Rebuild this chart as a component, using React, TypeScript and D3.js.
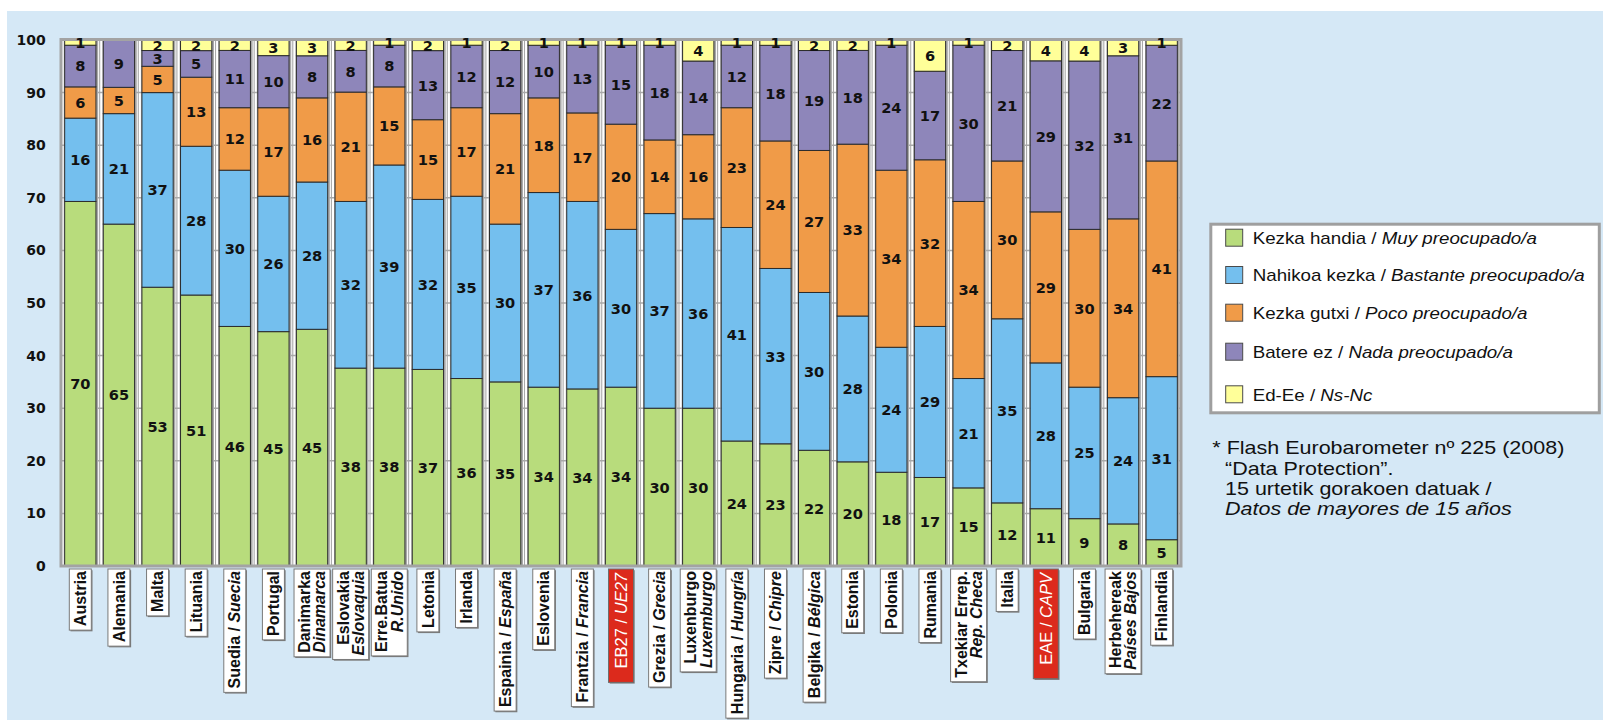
import React from 'react';
import * as d3 from 'd3';

// ---------- DATA ----------
const categories = ['Austria', 'Alemania', 'Malta', 'Lituania', 'Suedia', 'Portugal', 'Danimarka', 'Eslovakia', 'Erre.Batua', 'Letonia', 'Irlanda', 'Espainia', 'Eslovenia', 'Frantzia', 'EB27', 'Grezia', 'Luxenburgo', 'Hungaria', 'Zipre', 'Belgika', 'Estonia', 'Polonia', 'Rumania', 'Txekiar Errep.', 'Italia', 'EAE', 'Bulgaria', 'Herbehereak', 'Finlandia'];
const spanishNames = ['', '', '', '', 'Suecia', '', 'Dinamarca', 'Eslovaquia', 'R.Unido', '', '', 'España', '', 'Francia', 'UE27', 'Grecia', 'Luxemburgo', 'Hungría', 'Chipre', 'Bélgica', '', '', '', 'Rep. Checa', '', 'CAPV', '', 'Países Bajos', ''];
const stackedLabels = ['Danimarka', 'Eslovakia', 'Erre.Batua', 'Luxenburgo', 'Txekiar Errep.', 'Herbehereak'];
const highlighted = ['EB27', 'EAE'];

const muy = [70, 65, 53, 51, 46, 45, 45, 38, 38, 37, 36, 35, 34, 34, 34, 30, 30, 24, 23, 22, 20, 18, 17, 15, 12, 11, 9, 8, 5];
const bastante = [16, 21, 37, 28, 30, 26, 28, 32, 39, 32, 35, 30, 37, 36, 30, 37, 36, 41, 33, 30, 28, 24, 29, 21, 35, 28, 25, 24, 31];
const poco = [6, 5, 5, 13, 12, 17, 16, 21, 15, 15, 17, 21, 18, 17, 20, 14, 16, 23, 24, 27, 33, 34, 32, 34, 30, 29, 30, 34, 41];
const nada = [8, 9, 3, 5, 11, 10, 8, 8, 8, 13, 12, 12, 10, 13, 15, 18, 14, 12, 18, 19, 18, 24, 17, 30, 21, 29, 32, 31, 22];
const nsnc = [1, 0, 2, 2, 2, 3, 3, 2, 1, 2, 1, 2, 1, 1, 1, 1, 4, 1, 1, 2, 2, 1, 6, 1, 2, 4, 4, 3, 1];

const seriesKeys = ['muy', 'bastante', 'poco', 'nada', 'nsnc'];
const seriesValues = [muy, bastante, poco, nada, nsnc];
const seriesColors = ['#b8dc7c', '#74bfee', '#f09b48', '#8e86ba', '#ffff99'];
const legendBasque = ['Kezka handia / ', 'Nahikoa kezka / ', 'Kezka gutxi / ', 'Batere ez / ', 'Ed-Ee / '];
const legendSpanish = ['Muy preocupado/a', 'Bastante preocupado/a', 'Poco preocupado/a', 'Nada preocupado/a', 'Ns-Nc'];
const yTicks = [0, 10, 20, 30, 40, 50, 60, 70, 80, 90, 100];
const footnote = ['* Flash Eurobarometer nº 225 (2008)', '“Data Protection”.', '15 urtetik gorakoen datuak /', 'Datos de mayores de 15 años'];

// ---------- LAYOUT ----------
const W = 1603;
const H = 720;
const SANS = "'Liberation Sans', Arial, sans-serif";
const DEJA = "'DejaVu Sans', Verdana, sans-serif";

let _ctx: CanvasRenderingContext2D | null = null;
function measure(text: string, font: string): number {
  if (!_ctx) _ctx = document.createElement('canvas').getContext('2d');
  if (!_ctx) return text.length * 9;
  _ctx.font = font;
  return _ctx.measureText(text).width;
}

export default function App() {
  const plotLeft = 61, plotRight = 1181, plotTop = 40, plotBottom = 566;
  const y = d3.scaleLinear().domain([0, 1]).range([plotBottom, plotTop]);
  const x = d3.scaleBand<string>().domain(categories).range([plotLeft, plotRight]).paddingInner(0.19).paddingOuter(0.095);
  const bw = x.bandwidth();
  const step = x.step();

  const rows = categories.map((c, i) => {
    const r: any = { cat: c };
    seriesKeys.forEach((k, j) => { r[k] = seriesValues[j][i]; });
    return r;
  });
  const stacked = d3.stack<any>().keys(seriesKeys).offset(d3.stackOffsetExpand)(rows);

  const labelTop = 569;
  const lfs = 16;
  const boldFont = `bold ${lfs}px ${SANS}`;
  const boldItFont = `italic bold ${lfs}px ${SANS}`;

  return (
    <svg width={W} height={H} style={{ position: 'absolute', left: 0, top: 0 }} xmlns="http://www.w3.org/2000/svg">
      <rect x={0} y={0} width={W} height={H} fill="#ffffff" />
      <rect x={7} y={11} width={W - 7} height={H - 11} fill="#d5e8f6" />

      {/* plot area */}
      <rect x={plotLeft} y={plotTop} width={plotRight - plotLeft} height={plotBottom - plotTop} fill="#ffffff" />
      {categories.map((c) => {
        const bx = x(c) as number;
        return (
          <g key={'v' + c}>
            <rect x={bx + bw} y={plotTop} width={2.2} height={plotBottom - plotTop} fill="#a9a9a9" />
            <rect x={bx + bw + (step - bw) / 2 - 0.5} y={plotTop} width={1.1} height={plotBottom - plotTop} fill="#a9a9a9" />
            <rect x={bx - 1} y={plotTop} width={0.9} height={plotBottom - plotTop} fill="#b5b5b5" />
          </g>
        );
      })}
      {yTicks.slice(1, -1).map((t) => (
        <line key={'g' + t} x1={plotLeft} x2={plotRight} y1={y(t / 100)} y2={y(t / 100)} stroke="#a9a9a9" strokeWidth={1.5} />
      ))}

      {/* bars */}
      {stacked.map((s, j) => (
        <g key={'s' + j}>
          {s.map((d, i) => {
            if (seriesValues[j][i] === 0) return null;
            return (
              <rect key={i} x={x(categories[i]) as number} y={y(d[1])} width={bw} height={y(d[0]) - y(d[1])}
                fill={seriesColors[j]} stroke="#2b2b2b" strokeWidth={1} />
            );
          })}
        </g>
      ))}

      {/* frame */}
      <rect x={plotLeft} y={plotTop - 0.5} width={plotRight - plotLeft} height={plotBottom - plotTop + 0.5} fill="none" stroke="#a3a3a3" strokeWidth={3} />

      {/* value labels */}
      {stacked.map((s, j) => (
        <g key={'l' + j}>
          {s.map((d, i) => {
            const v = seriesValues[j][i];
            if (v === 0) return null;
            const cx = (x(categories[i]) as number) + bw / 2;
            const cy = (y(d[0]) + y(d[1])) / 2;
            return (
              <text key={i} x={cx} y={cy} dy="0.37em" textAnchor="middle" fontFamily={DEJA} fontWeight="bold" fontSize={14.6} fill="#111">{v}</text>
            );
          })}
        </g>
      ))}

      {/* y axis labels */}
      {yTicks.map((t) => (
        <text key={'y' + t} x={45.7} y={y(t / 100)} dy="0.36em" textAnchor="end" fontFamily={DEJA} fontWeight="bold" fontSize={14} fill="#111">{t}</text>
      ))}

      {/* category labels */}
      {categories.map((c, i) => {
        const cx = (x(c) as number) + bw / 2;
        const alt = spanishNames[i];
        const isRed = highlighted.includes(c);
        const isStacked = stackedLabels.includes(c);
        if (isRed) {
          const f = `${lfs + 0.5}px ${SANS}`;
          const len = measure(c + ' / ', f) + measure(alt, `italic ${f}`);
          const bwid = 25;
          const h = len + 4 + 14;
          return (
            <g key={'c' + c}>
              <rect x={cx - bwid / 2 + 1.2} y={labelTop + 1.2} width={bwid} height={h} fill="#7a7a7a" />
              <rect x={cx - bwid / 2} y={labelTop} width={bwid} height={h} fill="#dc2a1c" stroke="#6e6e6e" strokeWidth={1} />
              <text transform={`translate(${cx + 6},${labelTop + 4}) rotate(-90)`} textAnchor="end" fontFamily={SANS} fontSize={lfs + 0.5} fill="#ffffff">
                {c + ' / '}<tspan fontStyle="italic">{alt}</tspan>
              </text>
            </g>
          );
        }
        if (isStacked) {
          const l1 = measure(c, boldFont);
          const l2 = measure(alt, boldItFont);
          const h = Math.max(l1, l2) + 6;
          const bwid = 36;
          return (
            <g key={'c' + c}>
              <rect x={cx - bwid / 2 + 1.2} y={labelTop + 1.2} width={bwid} height={h} fill="#7a7a7a" />
              <rect x={cx - bwid / 2} y={labelTop} width={bwid} height={h} fill="#ffffff" stroke="#7a7a7a" strokeWidth={1} />
              <text transform={`translate(${cx - 7.6 + 5.7},${labelTop + 2}) rotate(-90)`} textAnchor="end" fontFamily={SANS} fontWeight="bold" fontSize={lfs} fill="#111">{c}</text>
              <text transform={`translate(${cx + 7.6 + 5.7},${labelTop + 2}) rotate(-90)`} textAnchor="end" fontFamily={SANS} fontWeight="bold" fontStyle="italic" fontSize={lfs} fill="#111">{alt}</text>
            </g>
          );
        }
        const len = alt ? measure(c + ' / ', boldFont) + measure(alt, boldItFont) : measure(c, boldFont);
        const h = len + 6;
        const bwid = 22;
        return (
          <g key={'c' + c}>
            <rect x={cx - bwid / 2 + 1.2} y={labelTop + 1.2} width={bwid} height={h} fill="#7a7a7a" />
            <rect x={cx - bwid / 2} y={labelTop} width={bwid} height={h} fill="#ffffff" stroke="#7a7a7a" strokeWidth={1} />
            <text transform={`translate(${cx + 5.7},${labelTop + 2}) rotate(-90)`} textAnchor="end" fontFamily={SANS} fontWeight="bold" fontSize={lfs} fill="#111">
              {alt ? c + ' / ' : c}{alt ? <tspan fontStyle="italic">{alt}</tspan> : null}
            </text>
          </g>
        );
      })}

      {/* legend */}
      <rect x={1210.8} y={224.2} width={388.5} height={188.6} fill="#ffffff" stroke="#9f9f9f" strokeWidth={3} />
      {legendBasque.map((t, i) => {
        const cy = [237.7, 275, 312.7, 351.7, 394.3][i];
        return (
          <g key={'lg' + i}>
            <rect x={1225.7} y={cy - 8.5} width={17} height={17} fill={seriesColors[i]} stroke="#4a4a4a" strokeWidth={1} />
            <text transform={`translate(1252.7,${cy + 6.3}) scale(1.115,1)`} fontFamily={SANS} fontSize={16.8} fill="#111">
              {t}<tspan fontStyle="italic">{legendSpanish[i]}</tspan>
            </text>
          </g>
        );
      })}

      {/* footnote */}
      {footnote.map((t, i) => (
        <text key={'f' + i} transform={`translate(${i === 0 ? 1212.3 : 1225},${[454.3, 474.6, 495, 515.3][i]}) scale(1.215,1)`}
          fontFamily={SANS} fontSize={17.7} fontStyle={i === 3 ? 'italic' : 'normal'} fill="#111">{t}</text>
      ))}
    </svg>
  );
}
